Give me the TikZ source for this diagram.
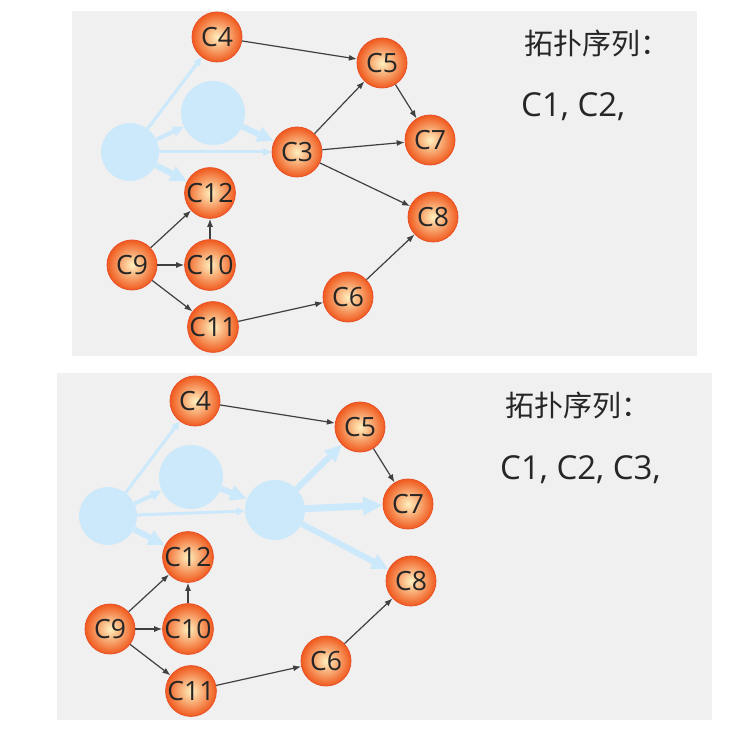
\documentclass[tikz,border=0pt]{standalone}
\usepackage{fontspec}
\setmainfont{Open Sans}
\newfontfamily\cjk{Noto Sans CJK SC}
\usepackage{tikz}
\usetikzlibrary{arrows.meta, positioning}
\definecolor{panelgray}{RGB}{240,240,240}
\definecolor{paleblue}{RGB}{204,233,251}
\definecolor{ballin}{RGB}{255,240,190}
\definecolor{ballout}{RGB}{240,90,30}
\definecolor{ballrim}{RGB}{232,80,40}

\begin{document}
\begin{tikzpicture}[
        x=1pt, y=-1pt,
        course/.style={circle, minimum size=50pt, inner sep=0pt, draw=ballrim, line width=0.8pt, inner color=ballin, outer color=ballout, font=\fontsize{26.5}{26.5}\selectfont, text=black!85},
        faded/.style={circle, minimum size=#1, inner sep=0pt, fill=paleblue},
        link/.style={-{Latex[length=8pt, width=6pt]}, line width=1.2pt, draw=black!75},
        palelink/.style={-{Triangle[length=#1*2.8, width=#1*2.5]}, line width=#1, draw=paleblue},
        seqtext/.style={font=\fontsize{33}{33}\selectfont, text=black!85, anchor=west, inner sep=0pt}
    ]
        \useasboundingbox (0,0) rectangle (749,735);

        % Pannelli
        \fill[panelgray] (72,11) rectangle (697,356);
        \fill[panelgray] (57,373) rectangle (712,720);

        % Pannello 1: C1, C2 gia' tolti
        \node[faded=58pt] (c1) at (130,152) {};
        \node[faded=64pt] (c2) at (213,113) {};
        \node[course] (c4) at (217,37) {C4};
        \node[course] (c3) at (297,152) {C3};
        \node[course] (c5) at (382,63) {C5};
        \node[course] (c7) at (430,140) {C7};
        \node[course] (c8) at (433,217) {C8};
        \node[course] (c12) at (210,193) {C12};
        \node[course] (c9) at (132,265) {C9};
        \node[course] (c10) at (210,265) {C10};
        \node[course] (c11) at (213,327) {C11};
        \node[course] (c6) at (348,297) {C6};

        % Archi sbiaditi
        \draw[palelink=3pt] (c1) -- (c4);
        \draw[palelink=4pt] (c1) -- (c2);
        \draw[palelink=3pt] (c1) -- (c3);
        \draw[palelink=6pt] (c2) -- (c3);
        \draw[palelink=6pt] (c1) -- (c12);

        % Archi
        \draw[link] (c4) -- (c5);
        \draw[link] (c3) -- (c5);
        \draw[link] (c5) -- (c7);
        \draw[link] (c3) -- (c7);
        \draw[link] (c3) -- (c8);
        \draw[link] (c9) -- (c12);
        \draw[link] (c10) -- (c12);
        \draw[link] (c9) -- (c10);
        \draw[link] (c9) -- (c11);
        \draw[link] (c11) -- (c6);
        \draw[link] (c6) -- (c8);

        % Sequenza
        \node[font=\cjk\fontsize{29}{29}\selectfont, text=black!85] (title1) at (597,43) {拓扑序列：};
        \node[seqtext] (seq1) at (521,107) {C1, C2,};

        % Pannello 2: anche C3 tolto
        \begin{scope}[shift={(-22,364)}, name prefix=b-]
            \node[faded=58pt] (c1) at (130,152) {};
            \node[faded=64pt] (c2) at (213,113) {};
            \node[faded=60pt] (c3) at (297,146) {};
            \node[course] (c4) at (217,37) {C4};
            \node[course] (c5) at (382,63) {C5};
            \node[course] (c7) at (430,140) {C7};
            \node[course] (c8) at (433,217) {C8};
            \node[course] (c12) at (210,193) {C12};
            \node[course] (c9) at (132,265) {C9};
            \node[course] (c10) at (210,265) {C10};
            \node[course] (c11) at (213,327) {C11};
            \node[course] (c6) at (348,297) {C6};

            % Archi sbiaditi
            \draw[palelink=3pt] (c1) -- (c4);
            \draw[palelink=4pt] (c1) -- (c2);
            \draw[palelink=3pt] (c1) -- (c3);
            \draw[palelink=6pt] (c2) -- (c3);
            \draw[palelink=6pt] (c1) -- (c12);
            \draw[palelink=6pt] (c3) -- (c5);
            \draw[palelink=7pt] (c3) -- (c7);
            \draw[palelink=6pt] (c3) -- (c8);

            % Archi
            \draw[link] (c4) -- (c5);
            \draw[link] (c5) -- (c7);
            \draw[link] (c9) -- (c12);
            \draw[link] (c10) -- (c12);
            \draw[link] (c9) -- (c10);
            \draw[link] (c9) -- (c11);
            \draw[link] (c11) -- (c6);
            \draw[link] (c6) -- (c8);
        \end{scope}

        % Sequenza
        \node[font=\cjk\fontsize{29}{29}\selectfont, text=black!85] (title2) at (578,405) {拓扑序列：};
        \node[seqtext] (seq2) at (500,470) {C1, C2, C3,};
    \end{tikzpicture}
\end{document}
